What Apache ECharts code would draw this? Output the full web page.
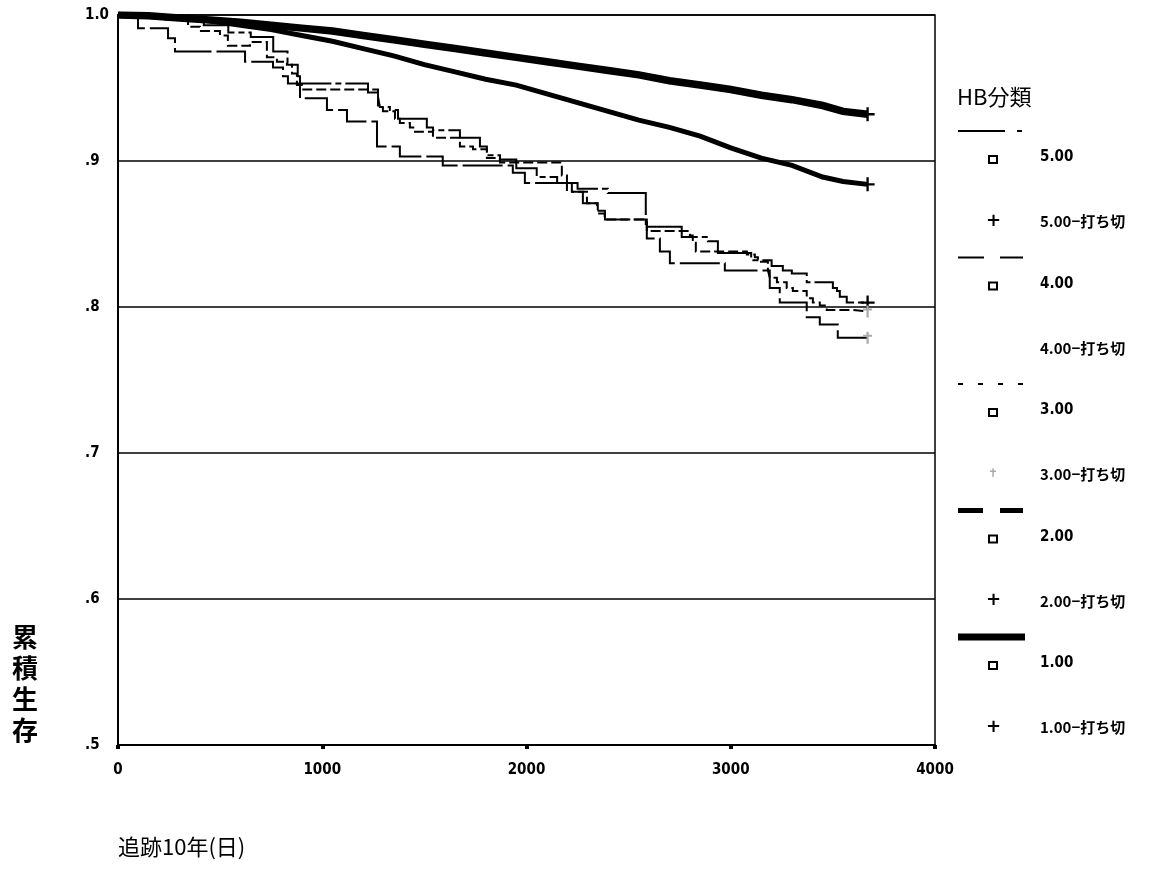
<!DOCTYPE html>
<html>
<head>
<meta charset="utf-8">
<script src="https://cdn.jsdelivr.net/npm/echarts@6/dist/echarts.min.js"></script>
<style>
  html, body { margin: 0; padding: 0; background: #fff; }
  #chart { width: 1173px; height: 870px; }
</style>
</head>
<body>
<div id="chart"></div>
<script>
// HB分類ごとの累積生存 (Kaplan-Meier), 追跡日数
const xTicks = [0, 1000, 2000, 3000, 4000];
const yTicks = [0.5, 0.6, 0.7, 0.8, 0.9, 1.0];

const groupNames = ['5.00', '4.00', '3.00', '2.00', '1.00'];

// [日, 累積生存]
const hb1 = [[0,1.0],[150,.9995],[300,.998],[450,.9965],[600,.995],[750,.993],[900,.991],[1050,.989],
  [1200,.986],[1350,.983],[1500,.980],[1650,.977],[1800,.974],[1950,.971],[2100,.968],[2250,.965],
  [2400,.962],[2550,.959],[2700,.955],[2850,.952],[3000,.949],[3150,.945],[3300,.942],[3450,.938],
  [3550,.934],[3670,.932]];

const hb2 = [[0,1.0],[150,.999],[300,.998],[450,.996],[600,.993],[750,.990],[900,.986],[1050,.982],
  [1200,.977],[1350,.972],[1500,.966],[1650,.961],[1800,.956],[1950,.952],[2100,.946],[2250,.940],
  [2400,.934],[2550,.928],[2700,.923],[2850,.917],[3000,.909],[3150,.902],[3300,.897],[3450,.889],
  [3550,.886],[3670,.884]];

const hb5 = [[0,1.0],[230,.997],[420,.993],[540,.988],[650,.985],[760,.975],[830,.966],[880,.958],
  [891,.953],[1224,.947],[1273,.944],[1282,.937],[1331,.935],[1371,.929],[1512,.923],[1542,.921],
  [1674,.916],[1772,.910],[1806,.904],[1870,.901],[1950,.895],[2050,.889],[2150,.885],[2250,.881],
  [2398,.878],[2584,.855],[2760,.848],[2888,.845],[2937,.837],[3100,.832],[3200,.828],[3255,.825],
  [3299,.823],[3372,.817],[3500,.813],[3520,.811],[3534,.807],[3568,.803],[3670,.803]];

const hb3 = [[0,1.0],[343,.992],[401,.989],[499,.986],[538,.979],[646,.9815],[729,.971],[778,.968],
  [827,.966],[852,.960],[876,.952],[901,.949],[1273,.938],[1297,.934],[1356,.929],[1380,.926],
  [1429,.923],[1454,.920],[1542,.916],[1674,.910],[1738,.908],[1806,.902],[1870,.899],[2173,.890],
  [2198,.885],[2222,.879],[2296,.871],[2349,.864],[2383,.860],[2589,.852],[2800,.849],[2814,.844],
  [2829,.838],[3079,.836],[3118,.834],[3133,.831],[3182,.825],[3191,.820],[3226,.817],[3274,.813],
  [3304,.811],[3372,.806],[3402,.803],[3436,.801],[3470,.798],[3598,.797],[3670,.797]];

const hb4 = [[0,1.0],[98,.991],[245,.984],[279,.975],[622,.968],[759,.964],[808,.958],[832,.953],
  [891,.943],[1023,.935],[1121,.927],[1268,.910],[1380,.903],[1590,.897],[1933,.892],[1992,.885],
  [2198,.879],[2276,.871],[2345,.866],[2384,.860],[2589,.847],[2653,.838],[2702,.830],[2971,.825],
  [3191,.813],[3240,.803],[3372,.793],[3436,.788],[3524,.779],[3670,.779]];

// 打ち切り
const censorPlus = [[3670,.932],[3670,.884],[3670,.803]];
const censorGray = [[3670,.797],[3670,.779]];

const plusPath = 'path://M5,0h2v5h5v2h-5v5h-2v-5h-5v-2h5z';
const crossPath = 'path://M4,0h2v3h3v2h-3v7h-2v-7h-3v-2h3z';
const jpFont = '"Noto Sans CJK JP", sans-serif';
const numFont = '"DejaVu Sans Condensed", "DejaVu Sans", sans-serif';

function kmSeries(name, data, width, type, step) {
  return {
    name: name,
    type: 'line',
    step: step,
    showSymbol: false,
    animation: false,
    data: data,
    lineStyle: { color: '#000', width: width, type: type, cap: 'butt', join: 'miter' },
    z: 3
  };
}

// 凡例
const legendItems = [];
const lineSamples = [
  [[958, 1005, 2], [1017, 1022, 2]],
  [[958, 984, 2], [1000, 1023, 2]],
  [[958, 963, 2], [978, 983, 2], [998, 1003, 2], [1018, 1023, 2]],
  [[958, 983, 5], [1000, 1023, 5]],
  [[958, 1025, 7]]
];
groupNames.forEach((g, i) => {
  const base = 131 + i * 126.5;
  lineSamples[i].forEach(s => {
    legendItems.push({ type: 'line', shape: { x1: s[0], y1: base, x2: s[1], y2: base },
      style: { stroke: '#000', lineWidth: s[2] } });
  });
  legendItems.push({ type: 'rect', shape: { x: 989, y: base + 25, width: 8, height: 7 },
    style: { fill: '#fff', stroke: '#000', lineWidth: 2 } });
  legendItems.push({ type: 'text', left: 1040, top: base + 19,
    style: { text: g, font: 'bold 15px ' + numFont, fill: '#000' } });
  if (i === 2) {
    legendItems.push({ type: 'text', left: 988, top: base + 84,
      style: { text: '✝', font: '12px sans-serif', fill: '#aaa' } });
  } else if (i !== 1) {
    legendItems.push({ type: 'text', left: 986, top: base + 81,
      style: { text: '+', font: 'bold 18px "DejaVu Sans"', fill: '#000' } });
  }
  legendItems.push({ type: 'text', left: 1040, top: base + 83,
    style: { text: g + '−打ち切', font: 'bold 15px ' + jpFont, fill: '#000' } });
});

const chart = echarts.init(document.getElementById('chart'));
chart.setOption({
  backgroundColor: '#fff',
  animation: false,
  grid: { left: 118, top: 15, right: 238, bottom: 125, show: true, borderColor: '#000', borderWidth: 1.5 },
  xAxis: {
    type: 'value', min: xTicks[0], max: xTicks[xTicks.length - 1], interval: 1000,
    axisLine: { lineStyle: { color: '#000', width: 2 } },
    axisTick: { show: true, length: 4, lineStyle: { color: '#000', width: 4 } },
    axisLabel: { color: '#000', margin: 18, fontSize: 15, fontWeight: 'bold', fontFamily: numFont,
      formatter: v => String(v) },
    splitLine: { show: false }
  },
  yAxis: {
    type: 'value', min: yTicks[0], max: yTicks[yTicks.length - 1], interval: 0.1,
    axisLine: { show: true, lineStyle: { color: '#000', width: 2 } },
    axisTick: { show: false },
    axisLabel: {
      color: '#000', margin: 33, align: 'left', fontSize: 15, fontWeight: 'bold',
      fontFamily: numFont,
      formatter: v => (Math.abs(v - 1) < 1e-9 ? '1.0' : '.' + Math.round(v * 10))
    },
    splitLine: { show: true, lineStyle: { color: '#000', width: 1.5 } }
  },
  series: [
    kmSeries('1.00', hb1, 7.5, 'solid', false),
    kmSeries('2.00', hb2, 5, 'solid', false),
    kmSeries('3.00', hb3, 2, [10, 4], 'end'),
    kmSeries('4.00', hb4, 2, [40, 5], 'end'),
    kmSeries('5.00', hb5, 2, [60, 4, 6, 4], 'end'),
    {
      type: 'scatter', data: censorPlus, symbol: plusPath, symbolSize: 14,
      itemStyle: { color: '#000', opacity: 1 }, animation: false, z: 4
    },
    {
      type: 'scatter', data: censorGray, symbol: crossPath, symbolSize: [9, 12],
      itemStyle: { color: '#aaa', opacity: 1 }, animation: false, z: 4
    }
  ],
  graphic: [
    { type: 'text', left: 957, top: 86, style: { text: 'HB分類', font: '22px ' + jpFont, fill: '#000' } },
    { type: 'text', left: 12, top: 622, style: { text: '累\n積\n生\n存', font: 'bold 26px ' + jpFont, lineHeight: 31, fill: '#000' } },
    { type: 'text', left: 118, top: 836, style: { text: '追跡10年(日)', font: '22px ' + jpFont, fill: '#000' } }
  ].concat(legendItems)
});
</script>
</body>
</html>
